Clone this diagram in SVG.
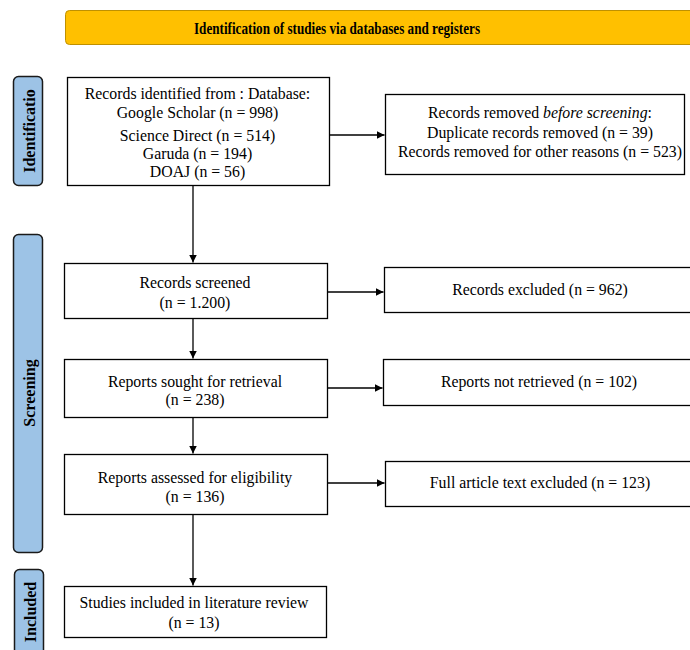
<svg xmlns="http://www.w3.org/2000/svg" width="690" height="650" viewBox="0 0 690 650">
<defs>
<marker id="ah" viewBox="0 0 10 10" refX="10" refY="5" markerWidth="8" markerHeight="8" markerUnits="userSpaceOnUse" orient="auto">
<path d="M0,0 L10,5 L0,10 z" fill="#000"/>
</marker>
</defs>
<style>
.box{fill:#fff;stroke:#000;stroke-width:1.3}
.side{fill:#9DC3E6;stroke:#1a1a1a;stroke-width:1.5}
.t{font-family:"Liberation Serif","Times New Roman",serif;font-size:15.8px;fill:#000;text-anchor:middle;dominant-baseline:central}
.b{font-family:"Liberation Serif","Times New Roman",serif;font-size:16px;font-weight:bold;fill:#000;text-anchor:middle;dominant-baseline:central}
.c{fill:none;stroke:#000;stroke-width:1.3;marker-end:url(#ah)}
</style>
<rect width="690" height="650" fill="#fff"/>
<g id="banner">
<rect x="65.500" y="10.500" width="640" height="34" rx="4" fill="#FFC000" stroke="#BF9000" stroke-width="1"/>
<text class="b" x="337" y="28" font-size="16" textLength="286" lengthAdjust="spacingAndGlyphs">Identification of studies via databases and registers</text>
</g>
<g id="side-identification">
<rect class="side" x="13.500" y="76.500" width="29" height="109" rx="5"/>
<text class="b" transform="translate(29,131) rotate(-90)">Identificatio</text>
</g>
<g id="side-screening">
<rect class="side" x="13.500" y="234.500" width="29" height="318" rx="5"/>
<text class="b" transform="translate(29,393) rotate(-90)">Screening</text>
</g>
<g id="side-included">
<rect class="side" x="14.500" y="569.500" width="29" height="100" rx="5"/>
<text class="b" transform="translate(30,612) rotate(-90)">Included</text>
</g>
<g id="n1">
<rect class="box" x="67.500" y="77.500" width="262" height="108"/>
<text class="t" x="197.500" y="93">Records identified from : Database:</text>
<text class="t" x="197.500" y="112">Google Scholar (n = 998)</text>
<text class="t" x="197.500" y="135">Science Direct (n = 514)</text>
<text class="t" x="197.500" y="153">Garuda (n = 194)</text>
<text class="t" x="197.500" y="171">DOAJ (n = 56)</text>
</g>
<g id="n2">
<rect class="box" x="385.500" y="94.500" width="299" height="80"/>
<text class="t" x="540" y="112">Records removed <tspan font-style="italic">before screening</tspan>:</text>
<text class="t" x="540" y="132">Duplicate records removed  (n = 39)</text>
<text class="t" x="540" y="151">Records removed for other reasons (n = 523)</text>
</g>
<g id="n3">
<rect class="box" x="64.500" y="263.500" width="263" height="55"/>
<text class="t" x="195" y="282">Records screened</text>
<text class="t" x="195" y="302">(n = 1.200)</text>
</g>
<g id="n4">
<rect class="box" x="384.500" y="267.500" width="310" height="45"/>
<text class="t" x="540" y="289">Records excluded (n = 962)</text>
</g>
<g id="n5">
<rect class="box" x="64.500" y="359.500" width="263" height="58"/>
<text class="t" x="195" y="381">Reports sought for retrieval</text>
<text class="t" x="195" y="399">(n = 238)</text>
</g>
<g id="n6">
<rect class="box" x="383.500" y="359.500" width="310" height="46"/>
<text class="t" x="539" y="381">Reports not retrieved (n = 102)</text>
</g>
<g id="n7">
<rect class="box" x="64.500" y="454.500" width="263" height="60"/>
<text class="t" x="195" y="477">Reports assessed for eligibility</text>
<text class="t" x="195" y="496">(n = 136)</text>
</g>
<g id="n8">
<rect class="box" x="385.500" y="461.500" width="310" height="45"/>
<text class="t" x="540" y="482">Full article text excluded (n = 123)</text>
</g>
<g id="n9">
<rect class="box" x="64.500" y="586.500" width="262" height="51"/>
<text class="t" x="194" y="602">Studies included in literature review</text>
<text class="t" x="194" y="622">(n = 13)</text>
</g>
<g id="connectors">
<path class="c" d="M329.500,135 H384.500"/>
<path class="c" d="M193,186 V262.500"/>
<path class="c" d="M327.500,292 H383.500"/>
<path class="c" d="M193,319 V358.500"/>
<path class="c" d="M327.500,388 H382.500"/>
<path class="c" d="M193,418 V453.500"/>
<path class="c" d="M327.500,483 H384.500"/>
<path class="c" d="M193,515 V585.500"/>
</g>
</svg>
